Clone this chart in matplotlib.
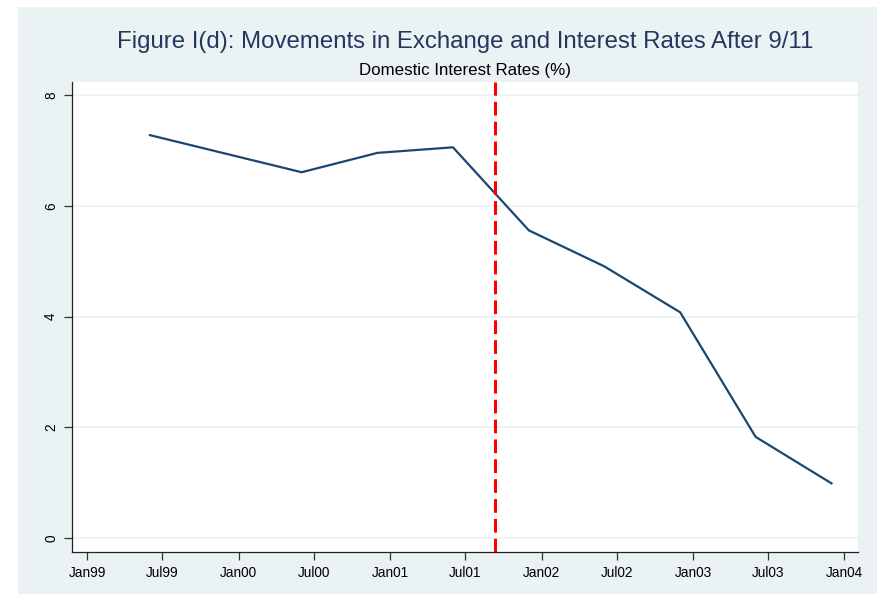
import pandas as pd
import matplotlib
matplotlib.use("Agg")
import matplotlib.pyplot as plt
import matplotlib.dates as mdates
from matplotlib.patches import Rectangle

# ---------------------------------------------------------------------------
# Data
# ---------------------------------------------------------------------------

dates = ["1999-06-01", "2000-06-01", "2000-12-01", "2001-06-01", "2001-12-01",
         "2002-06-01", "2002-12-01", "2003-06-01", "2003-12-01"]
rates = [7.28, 6.61, 6.96, 7.06, 5.56, 4.91, 4.08, 1.83, 0.99]

event_date = "2001-09-11"
tick_dates = pd.date_range("1999-01-01", "2004-01-01", freq="6MS")
y_ticks = [0, 2, 4, 6, 8]

title = "Figure I(d): Movements in Exchange and Interest Rates After 9/11"
subtitle = "Domestic Interest Rates (%)"

# ---------------------------------------------------------------------------
# Style
# ---------------------------------------------------------------------------

plt.rcParams["font.family"] = ["Liberation Sans", "DejaVu Sans"]
navy = "#1a476f"
title_col = "#23375f"
bg = "#eaf2f3"

fig = plt.figure(figsize=(8.78, 5.94), dpi=100)
fig.patch.set_facecolor("white")
fig.patches.append(Rectangle((18 / 878, 0.0), 1 - 18 / 878, 1 - 7 / 594,
                             transform=fig.transFigure, facecolor=bg,
                             edgecolor="none", zorder=-10))

ax = fig.add_axes([72 / 878, 1 - 552 / 594, (858 - 72) / 878, (552 - 82) / 594])
ax.set_facecolor("white")

x = pd.to_datetime(dates)
ax.plot(x, rates, color=navy, linewidth=1.6, zorder=3)
ax.axvline(pd.Timestamp(event_date), color="red", linewidth=2.2,
           linestyle=(0, (4.5, 2)), zorder=4)

ax.set_xlim(pd.Timestamp("1998-11-25"), pd.Timestamp("2004-02-03"))
ax.set_ylim(-0.25, 8.24)

ax.set_xticks(tick_dates)
ax.xaxis.set_major_formatter(mdates.DateFormatter("%b%y"))
ax.set_yticks(y_ticks)
ax.set_yticklabels([str(v) for v in y_ticks], rotation=90, va="center")

ax.grid(axis="y", color=bg, linewidth=1.2, zorder=0)
ax.tick_params(axis="both", labelsize=9.8, length=6, width=0.9, color="#333333",
               labelcolor="black")
ax.tick_params(axis="x", pad=4)
ax.tick_params(axis="y", pad=4)

for side in ["top", "right"]:
    ax.spines[side].set_visible(False)
for side in ["left", "bottom"]:
    ax.spines[side].set_color("#222222")
    ax.spines[side].set_linewidth(0.9)

cx = (72 + 858) / 2 / 878
fig.text(cx, 1 - 42 / 594, title, ha="center", va="center",
         fontsize=17.3, color=title_col)
fig.text(cx, 1 - 71 / 594, subtitle, ha="center", va="center",
         fontsize=12.2, color="black")

fig.savefig("out.png", dpi=100, facecolor=fig.get_facecolor())
